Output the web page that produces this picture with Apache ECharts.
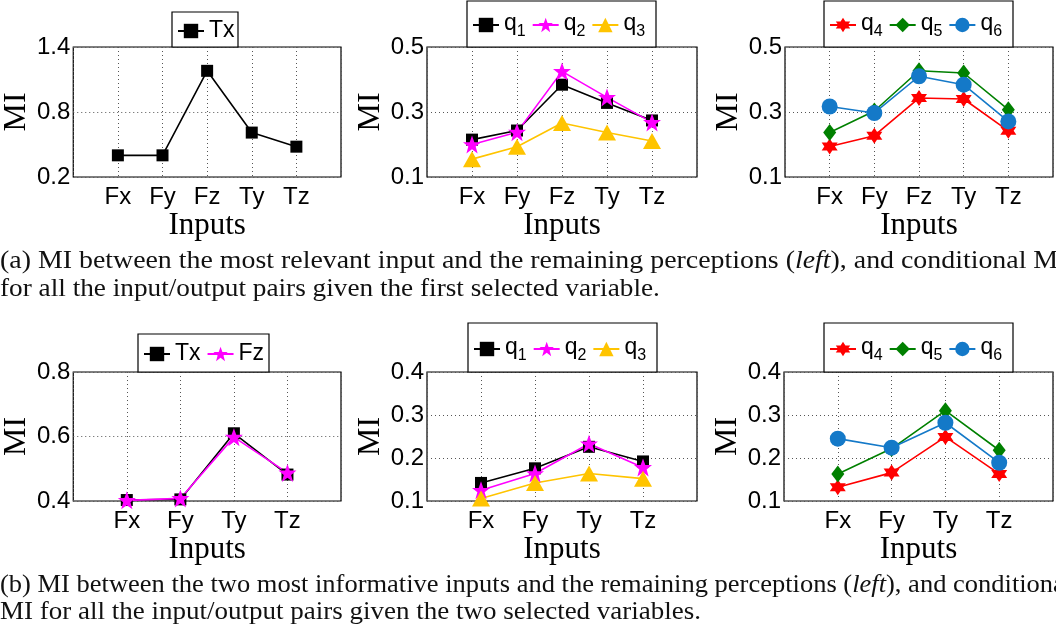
<!DOCTYPE html>
<html>
<head>
<meta charset="utf-8">
<script src="https://cdn.jsdelivr.net/npm/echarts@6/dist/echarts.min.js"></script>
<style>
  html, body { margin: 0; padding: 0; background: #fff; }
  #chart { width: 1056px; height: 632px; }
</style>
</head>
<body>
<div id="chart"></div>
<script>
// ---- categories ----
const inputsA = ['Fx', 'Fy', 'Fz', 'Ty', 'Tz'];
const inputsB = ['Fx', 'Fy', 'Ty', 'Tz'];

// ---- y tick settings per row ----
const yTicksA1 = [0.2, 0.8, 1.4];
const yTicksA2 = [0.1, 0.3, 0.5];
const yTicksB1 = [0.4, 0.6, 0.8];
const yTicksB2 = [0.1, 0.2, 0.3, 0.4];

// ---- (a) MI given first selected variable ----
const a1_Tx = [0.40, 0.40, 1.18, 0.61, 0.48];
const a2_q1 = [0.215, 0.243, 0.384, 0.328, 0.274];
const a2_q2 = [0.200, 0.238, 0.425, 0.345, 0.268];
const a2_q3 = [0.155, 0.193, 0.266, 0.237, 0.211];
const a3_q4 = [0.194, 0.227, 0.343, 0.340, 0.242];
const a3_q5 = [0.237, 0.303, 0.427, 0.420, 0.307];
const a3_q6 = [0.317, 0.297, 0.410, 0.384, 0.271];

// ---- (b) MI given two selected variables ----
const b1_Tx = [0.403, 0.405, 0.610, 0.482];
const b1_Fz = [0.402, 0.408, 0.598, 0.487];
const b2_q1 = [0.142, 0.176, 0.226, 0.192];
const b2_q2 = [0.125, 0.164, 0.233, 0.178];
const b2_q3 = [0.106, 0.142, 0.164, 0.152];
const b3_q4 = [0.132, 0.166, 0.249, 0.163];
const b3_q5 = [0.163, 0.222, 0.310, 0.218];
const b3_q6 = [0.245, 0.224, 0.282, 0.189];

// ---- marker shapes ----
const STAR5 = 'path://M50,2 L62.5,36 L98,36 L69.5,58 L80,94 L50,72.5 L20,94 L30.5,58 L2,36 L37.5,36 Z';
const STAR6 = 'path://M50,0 L64.43,25 L93.3,25 L78.87,50 L93.3,75 L64.43,75 L50,100 L35.57,75 L6.7,75 L21.13,50 L6.7,25 L35.57,25 Z';

const styles = {
  Tx: { color: '#000000', symbol: 'rect', size: 12 },
  Fz: { color: '#FF00FF', symbol: STAR5, size: 18 },
  q1: { color: '#000000', symbol: 'rect', size: 12 },
  q2: { color: '#FF00FF', symbol: STAR5, size: 18 },
  q3: { color: '#FFC400', symbol: 'triangle', size: [18, 16] },
  q4: { color: '#FF0000', symbol: STAR6, size: 16 },
  q5: { color: '#008000', symbol: 'diamond', size: [13, 17] },
  q6: { color: '#1479C8', symbol: 'circle', size: 16 }
};

const SANS = 'Liberation Sans';
const SERIF = 'Liberation Serif';

// panel boxes: [left, top, width, height]
const panels = [
  { box: [70, 47, 271, 130], cats: inputsA, ticks: yTicksA1 },
  { box: [427, 47, 270, 130], cats: inputsA, ticks: yTicksA2 },
  { box: [785, 47, 270, 130], cats: inputsA, ticks: yTicksA2 },
  { box: [70, 372, 271, 129], cats: inputsB, ticks: yTicksB1 },
  { box: [427, 372, 270, 129], cats: inputsB, ticks: yTicksB2 },
  { box: [784, 372, 271, 129], cats: inputsB, ticks: yTicksB2 }
];

// series per panel: [name, values]
const panelSeries = [
  [['Tx', a1_Tx]],
  [['q1', a2_q1], ['q2', a2_q2], ['q3', a2_q3]],
  [['q4', a3_q4], ['q5', a3_q5], ['q6', a3_q6]],
  [['Tx', b1_Tx], ['Fz', b1_Fz]],
  [['q1', b2_q1], ['q2', b2_q2], ['q3', b2_q3]],
  [['q4', b3_q4], ['q5', b3_q5], ['q6', b3_q6]]
];

// legend frames: [left, top, width, height]
const legendFrames = [
  [172, 12, 66, 35],
  [467, 1, 189, 46],
  [824, 1, 189, 46],
  [138, 334, 131, 38],
  [468, 323, 189, 49],
  [824, 323, 189, 49]
];

const dotted = { show: true, lineStyle: { color: '#555', type: [1, 3], width: 1 } };

const grid = [], xAxis = [], yAxis = [], series = [], legend = [], graphic = [];

panels.forEach((p, k) => {
  const [l, t, w, h] = p.box;
  grid.push({ left: l, top: t, width: w, height: h, show: true,
    borderColor: '#000', borderWidth: 1.2, backgroundColor: '#fff' });
  const n = p.cats.length;
  xAxis.push({
    gridIndex: k, type: 'value', min: 0, max: n + 1, interval: 1,
    axisLine: { show: false }, axisTick: { show: false },
    splitLine: dotted,
    axisLabel: {
      fontFamily: SANS, fontSize: 24, color: '#000', margin: 8,
      formatter: v => (v >= 1 && v <= n ? p.cats[v - 1] : '')
    },
    name: 'Inputs', nameLocation: 'middle', nameGap: 24,
    nameTextStyle: { fontFamily: SERIF, fontSize: 31, color: '#000' }
  });
  const lo = p.ticks[0], hi = p.ticks[p.ticks.length - 1];
  const step = +(p.ticks[1] - p.ticks[0]).toFixed(2);
  yAxis.push({
    gridIndex: k, type: 'value', min: lo, max: hi, interval: step,
    axisLine: { show: false }, axisTick: { show: false },
    splitLine: dotted,
    axisLabel: {
      fontFamily: SANS, fontSize: 24, color: '#000', margin: 3,
      formatter: v => v.toFixed(1)
    },
    name: 'MI', nameLocation: 'middle', nameGap: 38,
    nameTextStyle: { fontFamily: SERIF, fontSize: 32, color: '#000' }
  });

  const names = [];
  panelSeries[k].forEach(([name, vals]) => {
    const s = styles[name];
    names.push(name);
    series.push({
      type: 'line', name, xAxisIndex: k, yAxisIndex: k,
      data: vals.map((v, i) => [i + 1, v]),
      symbol: s.symbol, symbolSize: s.size, showSymbol: true,
      lineStyle: { color: s.color, width: 1.6 },
      itemStyle: { color: s.color, borderWidth: 0 },
      animation: false, silent: true, z: 2
    });
  });

  // legend frame drawn as a rect, items centred inside it
  const [fl, ft, fw, fh] = legendFrames[k];
  graphic.push({
    type: 'rect', silent: true, z: 3,
    shape: { x: fl, y: ft, width: fw, height: fh },
    style: { fill: '#fff', stroke: '#000', lineWidth: 1.2 }
  });
  const hasSub = names[0][0] === 'q';
  const contentH = hasSub ? 26 : 24;
  legend.push({
    data: names, left: fl + 5, top: Math.round(ft + (fh - contentH) / 2) + (hasSub ? 1 : 1),
    orient: 'horizontal', z: 6,
    itemWidth: 26, itemHeight: 18, itemGap: 6,
    padding: 0, borderWidth: 0,
    selectedMode: false,
    textStyle: {
      fontFamily: SANS, fontSize: 23, color: '#000', lineHeight: 24,
      rich: {
        m: { fontFamily: SANS, fontSize: 23, lineHeight: 26, verticalAlign: 'top', color: '#000' },
        s: { fontFamily: SANS, fontSize: 16, lineHeight: 16, verticalAlign: 'top',
             padding: [12, 0, 0, 0], color: '#000' }
      }
    },
    formatter: nm => (nm[0] === 'q' ? '{m|q}{s|' + nm.slice(1) + '}' : nm)
  });
});

// caption lines: [top, horizontal scale, text]
const captionLines = [
  [249, 1.115, '(a) MI between the most relevant input and the remaining perceptions ({i|left}), and conditional MI'],
  [277, 1.09, 'for all the input/output pairs given the first selected variable.'],
  [573, 1.06, '(b) MI between the two most informative inputs and the remaining perceptions ({i|left}), and conditional'],
  [600, 1.08, 'MI for all the input/output pairs given the two selected variables.']
];

captionLines.forEach(([y, sx, text]) => graphic.push({
  type: 'text', x: 0, y, scaleX: sx, silent: true,
  style: {
    text, fill: '#111', font: '25px "Liberation Serif"',
    rich: { i: { fontStyle: 'italic', fontFamily: SERIF, fontSize: 25, fill: '#111' } }
  }
}));

const chart = echarts.init(document.getElementById('chart'), null, { renderer: 'canvas' });
chart.setOption({
  animation: false,
  backgroundColor: '#fff',
  grid, xAxis, yAxis, series, legend,
  graphic
});
</script>
</body>
</html>
